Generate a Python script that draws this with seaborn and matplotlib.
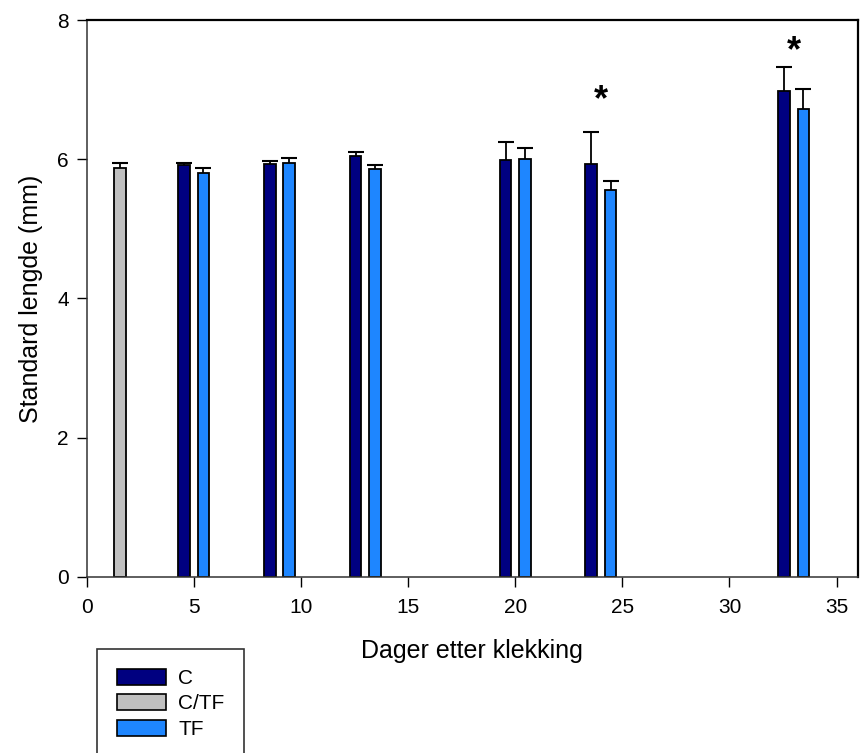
import numpy as np
import pandas as pd
import matplotlib
matplotlib.use("Agg")
import matplotlib.pyplot as plt
import seaborn as sns
from matplotlib.patches import Patch

# values
days = [5, 9, 13, 20, 24, 33]
c_mean = [5.91, 5.93, 6.05, 5.99, 5.93, 6.98]
c_err = [0.04, 0.05, 0.06, 0.26, 0.46, 0.34]
tf_mean = [5.80, 5.94, 5.86, 6.01, 5.56, 6.72]
tf_err = [0.07, 0.08, 0.06, 0.15, 0.13, 0.29]
ctf_day = [2]
ctf_mean = [5.87]
ctf_err = [0.07]
star_days = [24, 33]
star_y = [6.84, 7.55]

groups = ["C", "C/TF", "TF"]
colors = {"C": "#000080", "C/TF": "#c0c0c0", "TF": "#1e86ff"}
offset = {"C": -0.45, "C/TF": -0.45, "TF": 0.45}

rows = []
for d, m, e in zip(days, c_mean, c_err):
    rows.append(("C", d, m, e))
for d, m, e in zip(ctf_day, ctf_mean, ctf_err):
    rows.append(("C/TF", d, m, e))
for d, m, e in zip(days, tf_mean, tf_err):
    rows.append(("TF", d, m, e))
df = pd.DataFrame(rows, columns=["group", "day", "mean", "se"])
df["pos"] = df["day"] + df["group"].map(offset)

sns.set_style("ticks")
plt.rcParams["font.family"] = ["Liberation Sans", "DejaVu Sans"]
plt.rcParams["text.color"] = "black"
plt.rcParams["axes.labelcolor"] = "black"
plt.rcParams["xtick.color"] = "black"
plt.rcParams["ytick.color"] = "black"

fig = plt.figure(figsize=(8.6, 7.53), dpi=100)
ax = fig.add_axes([0.1008, 0.2341, 0.8969, 0.7393])

sns.barplot(data=df, x="pos", y="mean", hue="group", hue_order=groups,
            palette=colors, saturation=1, native_scale=True, dodge=False, width=0.6,
            errorbar=None, edgecolor="black", linewidth=1.3, legend=False, ax=ax)

# upper error bars only
eb = ax.errorbar(df["pos"], df["mean"], yerr=[np.zeros(len(df)), df["se"]],
                 fmt="none", ecolor="black", elinewidth=1.3, capsize=5.8, capthick=1.5)
eb[1][0].set_visible(False)

for d, y in zip(star_days, star_y):
    ax.text(d, y, "*", ha="center", va="center", fontsize=26, fontweight="bold")

ax.set_xlim(0, 36)
ax.set_ylim(0, 8)
ax.set_xticks([0, 5, 10, 15, 20, 25, 30, 35])
ax.set_yticks([0, 2, 4, 6, 8])
ax.tick_params(axis="both", direction="out", length=7, width=1, labelsize=15)
ax.tick_params(axis="x", pad=8)
ax.tick_params(axis="y", pad=6)
ax.set_xlabel("Dager etter klekking", fontsize=18, labelpad=16)
ax.set_ylabel("Standard lengde (mm)", fontsize=18, labelpad=10)

for s in ["top", "right"]:
    ax.spines[s].set_linewidth(1.6)
    ax.spines[s].set_color("black")
for s in ["left", "bottom"]:
    ax.spines[s].set_linewidth(1.1)
    ax.spines[s].set_color("#333333")

handles = [Patch(facecolor=colors[g], edgecolor="black", linewidth=1.2) for g in groups]
leg = fig.legend(handles, groups, loc="upper left", bbox_to_anchor=(97 / 860, 1 - 649 / 753),
                 frameon=True, fancybox=False, edgecolor="black", fontsize=15,
                 handlelength=2.35, handleheight=0.8, labelspacing=0.3, borderpad=0.95,
                 handletextpad=0.6, borderaxespad=0)
leg.get_frame().set_linewidth(1.2)

fig.savefig("out.png", dpi=100)
